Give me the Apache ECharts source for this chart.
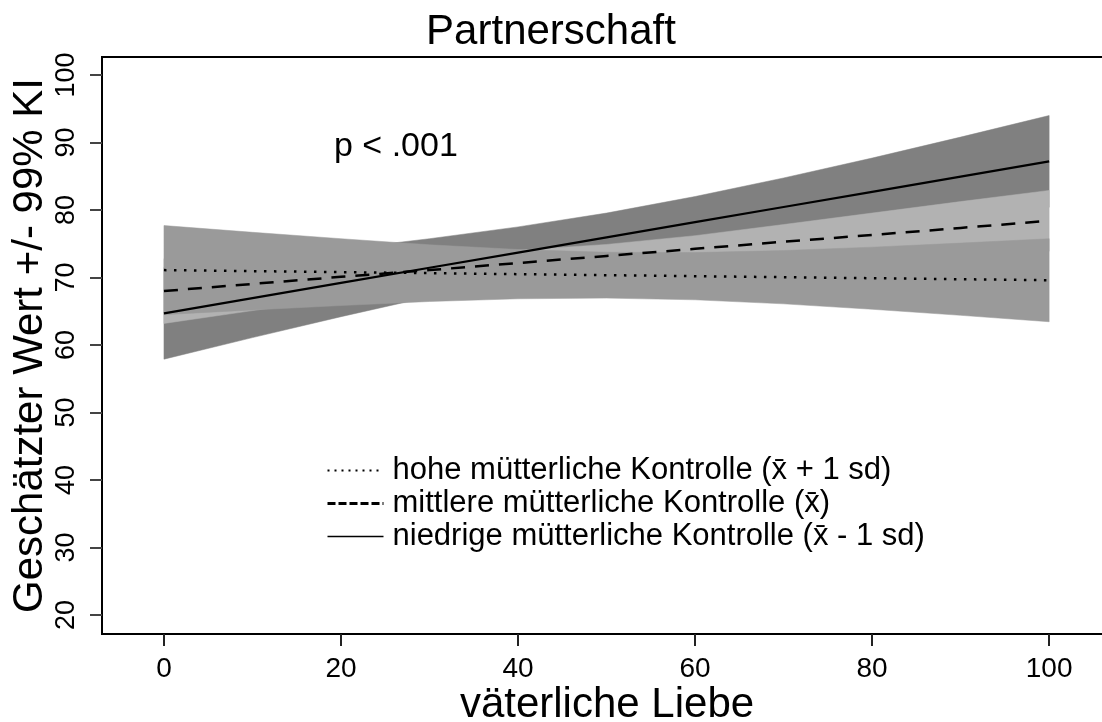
<!DOCTYPE html>
<html>
<head>
<meta charset="utf-8">
<script src="https://cdn.jsdelivr.net/npm/echarts@6/dist/echarts.min.js"></script>
<style>
  html, body { margin: 0; padding: 0; background: #fff; }
  #chart { width: 1102px; height: 722px; }
</style>
</head>
<body>
<div id="chart"></div>
<script>
// x positions (väterliche Liebe)
const xs = [0, 10, 20, 30, 40, 50, 60, 70, 80, 90, 100]

// hohe mütterliche Kontrolle (dotted)
const hoheLine  = [71.1, 70.95, 70.8, 70.65, 70.5, 70.35, 70.2, 70.05, 69.9, 69.75, 69.6]
const hoheUpper = [77.7, 76.7, 75.75, 74.85, 74.15, 73.75, 73.7, 74.0, 74.5, 75.1, 75.75]
const hoheLower = [64.5, 65.2, 65.85, 66.45, 66.85, 66.95, 66.7, 66.1, 65.3, 64.4, 63.45]

// mittlere mütterliche Kontrolle (dashed)
const mittLine  = [68.0, 69.05, 70.1, 71.1, 72.15, 73.2, 74.25, 75.3, 76.3, 77.35, 78.4]
const mittUpper = [72.8, 73.0, 73.25, 73.55, 74.05, 74.9, 76.2, 77.85, 79.55, 81.25, 82.9]
const mittLower = [63.2, 65.1, 66.95, 68.65, 70.25, 71.5, 72.3, 72.75, 73.05, 73.45, 73.9]

// niedrige mütterliche Kontrolle (solid)
const niedLine  = [64.7, 66.95, 69.2, 71.45, 73.7, 75.95, 78.2, 80.45, 82.7, 84.95, 87.2]
const niedUpper = [71.5, 72.8, 74.2, 75.75, 77.5, 79.55, 82.0, 84.75, 87.7, 90.8, 94.0]
const niedLower = [57.9, 61.1, 64.2, 67.15, 69.9, 72.35, 74.4, 76.15, 77.7, 79.1, 80.4]

const xTicks = [0, 20, 40, 60, 80, 100]
const yTicks = [20, 30, 40, 50, 60, 70, 80, 90, 100]

const seriesNames = [
  'hohe mütterliche Kontrolle (x\u0304 + 1 sd)',
  'mittlere mütterliche Kontrolle (x\u0304)',
  'niedrige mütterliche Kontrolle (x\u0304 - 1 sd)'
]

const FONT = "'Liberation Sans', Arial, sans-serif"

function pairs(ys) {
  return xs.map((x, i) => [x, ys[i]])
}

// confidence band drawn as one polygon through the axis scales
function band(lower, upper, color, z) {
  return {
    type: 'custom',
    z: z,
    silent: true,
    data: xs.map((x, i) => [x, lower[i], upper[i]]),
    encode: { x: 0, y: [1, 2] },
    renderItem: (params, api) => {
      if (params.dataIndex !== 0) return null
      const top = xs.map((x, i) => api.coord([x, upper[i]]))
      const bottom = xs.map((x, i) => api.coord([x, lower[i]])).reverse()
      return {
        type: 'polygon',
        shape: { points: top.concat(bottom) },
        style: { fill: color, stroke: color, lineWidth: 0.5 }
      }
    }
  }
}

const chart = echarts.init(document.getElementById('chart'))

chart.setOption({
  animation: false,
  backgroundColor: '#fff',
  title: {
    text: 'Partnerschaft',
    left: 'center',
    top: 6,
    textStyle: { fontFamily: FONT, fontSize: 42, fontWeight: 'normal', color: '#000' }
  },
  graphic: [
    {
      type: 'text', left: 334, top: 130,
      style: { text: 'p < .001', fontFamily: FONT, fontSize: 34, fill: '#000' }
    }
  ],
  legend: {
    orient: 'vertical',
    left: 321,
    top: 450,
    itemWidth: 56,
    itemHeight: 14,
    itemGap: 2,
    textStyle: { fontFamily: FONT, fontSize: 31, color: '#000', padding: [0, 0, 0, 4] },
    data: [
      { name: seriesNames[0], itemStyle: { opacity: 0 }, lineStyle: { type: [2, 5], width: 2 } },
      { name: seriesNames[1], itemStyle: { opacity: 0 }, lineStyle: { type: [8, 3], width: 3 } },
      { name: seriesNames[2], itemStyle: { opacity: 0 }, lineStyle: { type: 'solid', width: 1.5 } }
    ]
  },
  grid: {
    left: 102, top: 57, right: -10, bottom: 88,
    outerBoundsMode: 'none',
    containLabel: false,
    show: true, borderColor: '#000', borderWidth: 2
  },
  xAxis: {
    type: 'value',
    min: -7,
    max: 107.1,
    name: 'väterliche Liebe',
    nameLocation: 'middle',
    nameMoveOverlap: false,
    nameGap: 50,
    nameTextStyle: { fontFamily: FONT, fontSize: 42, color: '#000' },
    axisLine: { show: true, onZero: false, lineStyle: { color: '#000', width: 2 } },
    axisTick: { show: true, customValues: xTicks, length: 12, lineStyle: { color: '#222', width: 2 } },
    axisLabel: { customValues: xTicks, fontFamily: FONT, fontSize: 28, color: '#000', margin: 21 },
    splitLine: { show: false }
  },
  yAxis: {
    type: 'value',
    min: 17.19,
    max: 102.67,
    name: 'Geschätzter Wert +/- 99% KI',
    nameLocation: 'middle',
    nameMoveOverlap: false,
    nameGap: 51,
    nameRotate: 90,
    nameTextStyle: { fontFamily: FONT, fontSize: 42, color: '#000' },
    axisLine: { show: true, onZero: false, lineStyle: { color: '#000', width: 2 } },
    axisTick: { show: true, customValues: yTicks, length: 12, lineStyle: { color: '#444', width: 2 } },
    axisLabel: { customValues: yTicks, rotate: 90, fontFamily: FONT, fontSize: 27, color: '#000', margin: 22 },
    splitLine: { show: false }
  },
  series: [
    band(niedLower, niedUpper, '#808080', 1),
    band(mittLower, mittUpper, '#b2b2b2', 2),
    band(hoheLower, hoheUpper, '#9a9a9a', 3),
    {
      name: seriesNames[0], type: 'line', data: pairs(hoheLine), symbol: 'none', z: 5,
      itemStyle: { color: '#000' },
      lineStyle: { color: '#000', width: 2.5, type: [2.5, 7.5] }
    },
    {
      name: seriesNames[1], type: 'line', data: pairs(mittLine), symbol: 'none', z: 5,
      itemStyle: { color: '#000' },
      lineStyle: { color: '#000', width: 2.5, type: [14, 10] }
    },
    {
      name: seriesNames[2], type: 'line', data: pairs(niedLine), symbol: 'none', z: 5,
      itemStyle: { color: '#000' },
      lineStyle: { color: '#000', width: 2.2 }
    }
  ]
})
</script>
</body>
</html>
